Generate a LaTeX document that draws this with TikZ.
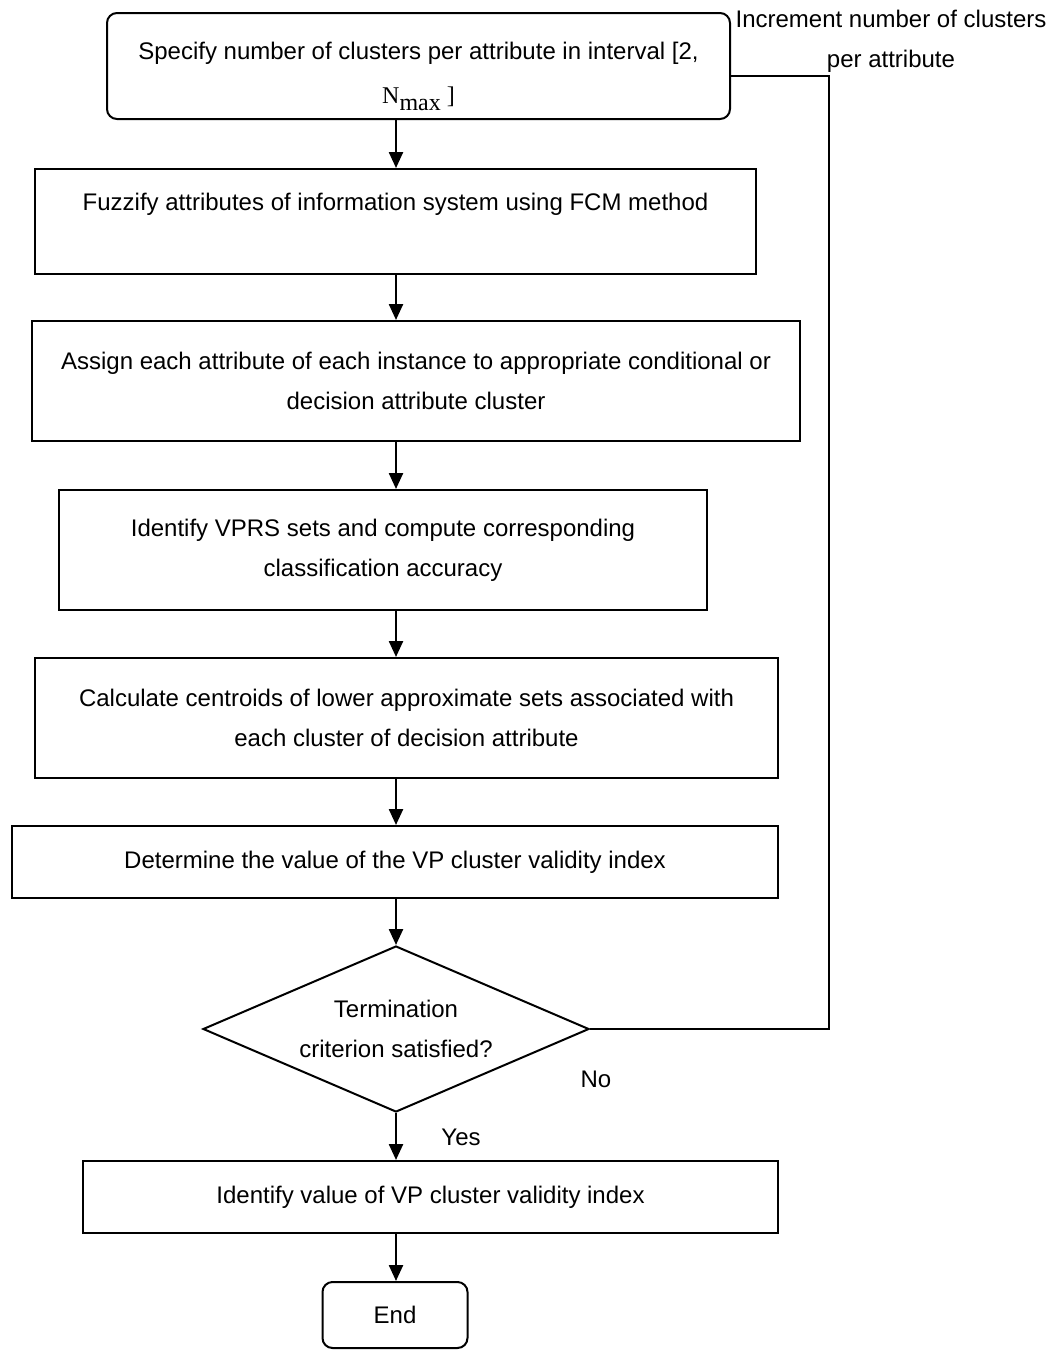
\documentclass[tikz,border=0pt]{standalone}
\usepackage{fontspec}
\setmainfont{Liberation Sans}
\newfontfamily\timesfont{Liberation Serif}
\usetikzlibrary{shapes.geometric,arrows.meta}

\begin{document}
\begin{tikzpicture}[x=0.5pt, y=-0.5pt,
    every node/.style={font=\fontsize{12}{20}\selectfont, align=center},
    procbox/.style={draw, line width=1pt, inner sep=0pt},
    roundbox/.style={procbox, rounded corners=5pt},
    flow/.style={line width=1.2pt, -{Triangle[length=8pt,width=7pt]}}]
    \useasboundingbox (0,0) rectangle (1054,1350);
    % Main column of steps
    \coordinate (axis) at (396,0);
    \node[roundbox, minimum width=311.5pt, minimum height=53pt] (spec) at (418.5,66)
        {\rule{0pt}{19pt}Specify number of clusters per attribute in interval [2,\\[2pt]{\timesfont N\raisebox{-3.5pt}{max} ]}};
    \node[procbox, minimum width=360.5pt, minimum height=52.5pt] (fuzz) at (395.5,221.5)
        {\rule{0pt}{15pt}Fuzzify attributes of information system using FCM method\\\strut};
    \node[procbox, minimum width=384pt, minimum height=60pt] (assign) at (416,381)
        {Assign each attribute of each instance to appropriate conditional or\\decision attribute cluster};
    \node[procbox, minimum width=324pt, minimum height=60pt] (vprs) at (383,550)
        {Identify VPRS sets and compute corresponding\\classification accuracy};
    \node[procbox, minimum width=371.5pt, minimum height=60pt] (centr) at (406.5,718)
        {Calculate centroids of lower approximate sets associated with\\each cluster of decision attribute};
    \node[procbox, minimum width=383pt, minimum height=36pt] (determ) at (395,862)
        {Determine the value of the VP cluster validity index};
    \node[draw, line width=1pt, diamond, aspect=2.3, inner sep=0pt,
        minimum width=193pt, minimum height=83pt] (term) at (396,1029)
        {Termination\\criterion satisfied?};
    \node[procbox, minimum width=347.5pt, minimum height=36pt] (ident) at (430.5,1197)
        {Identify value of VP cluster validity index};
    \node[roundbox, minimum width=72.5pt, minimum height=33pt] (stop) at (395,1315) {End};
    % Connectors
    \draw[flow] (spec.south -| axis) -- (fuzz.north -| axis);
    \draw[flow] (fuzz.south -| axis) -- (assign.north -| axis);
    \draw[flow] (assign.south -| axis) -- (vprs.north -| axis);
    \draw[flow] (vprs.south -| axis) -- (centr.north -| axis);
    \draw[flow] (centr.south -| axis) -- (determ.north -| axis);
    \draw[flow] (determ.south -| axis) -- (term.north);
    \draw[flow] (term.south) -- (ident.north -| axis);
    \draw[flow] (ident.south -| axis) -- (stop.north -| axis);
    % Loop back when not satisfied
    \coordinate (loop) at (829,76);
    \draw[line width=1pt] (term.east) -| (loop) -- (loop -| spec.east);
    \node (incr) at (891,41) {Increment number of clusters\\per attribute};
    \node (no) at (596,1079) {No};
    \node (yes) at (461,1137) {Yes};
\end{tikzpicture}
\end{document}
